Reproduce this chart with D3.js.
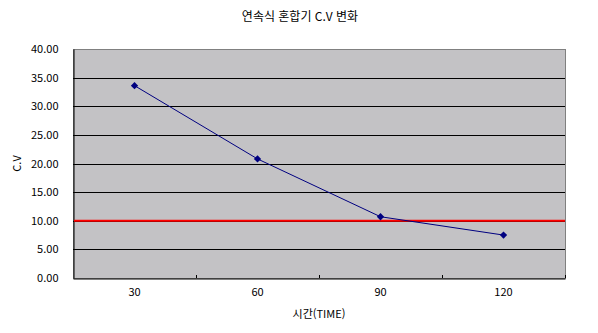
<!DOCTYPE html>
<html lang="ko">
<head>
<meta charset="utf-8">
<script src="https://d3js.org/d3.v7.min.js"></script>
<style>
body { margin: 0; background: #fff; }
text { font-family: "Noto Sans CJK KR", "DejaVu Sans", sans-serif; font-size: 11px; fill: #000; }
</style>
</head>
<body>
<script>
// data
const times = ["30", "60", "90", "120"];
const cvValues = [33.6, 20.8, 10.7, 7.5];
const yTicks = [0, 5, 10, 15, 20, 25, 30, 35, 40];
const limitValue = 10;

const width = 598, height = 333;
const plotLeft = 73, plotRight = 565, plotTop = 49, plotBottom = 278;

const svg = d3.select("body").append("svg")
    .attr("width", width)
    .attr("height", height);

const x = d3.scaleBand().domain(times).range([plotLeft, plotRight]);
const y = d3.scaleLinear().domain([0, 40]).range([plotBottom, plotTop]);

// plot background
svg.append("rect")
    .attr("x", plotLeft + 0.5).attr("y", plotTop + 0.5)
    .attr("width", plotRight - plotLeft).attr("height", plotBottom - plotTop)
    .attr("fill", "#c3c2c5")
    .attr("stroke", "#808080");

// gridlines
svg.append("g")
    .selectAll("line")
    .data(yTicks.filter(d => d > 0 && d < 40))
    .join("line")
    .attr("x1", plotLeft).attr("x2", plotRight)
    .attr("y1", d => Math.round(y(d)) + 0.5)
    .attr("y2", d => Math.round(y(d)) + 0.5)
    .attr("stroke", "#000");

// y axis
const yAxis = d3.axisLeft(y).tickValues(yTicks).tickFormat(d3.format(".2f")).tickSize(0).tickPadding(15);
const gy = svg.append("g").attr("transform", `translate(${plotLeft + 0.5},0)`).call(yAxis);
gy.select(".domain").attr("stroke", "#000");
gy.selectAll("text").style("font-size", "11px");

// x axis
const xAxis = d3.axisBottom(x).tickSize(0).tickPadding(10);
const gx = svg.append("g").attr("transform", `translate(0,${plotBottom + 0.5})`).call(xAxis);
gx.select(".domain").attr("stroke", "#000");
gx.selectAll("text").style("font-size", "11px");

// category boundary ticks (pointing inward)
svg.append("g")
    .selectAll("line")
    .data(times.slice(1).concat(["end"]))
    .join("line")
    .attr("x1", d => Math.round(d === "end" ? plotRight : x(d)) + 0.5)
    .attr("x2", d => Math.round(d === "end" ? plotRight : x(d)) + 0.5)
    .attr("y1", plotBottom).attr("y2", plotBottom - 3)
    .attr("stroke", "#000");

// limit line
svg.append("line")
    .attr("x1", plotLeft + 1).attr("x2", plotRight)
    .attr("y1", y(limitValue)).attr("y2", y(limitValue))
    .attr("stroke", "#ff0000")
    .attr("stroke-width", 2);

// series line
const pts = times.map((t, i) => [x(t) + x.bandwidth() / 2, y(cvValues[i])]);
svg.append("path")
    .attr("d", d3.line()(pts))
    .attr("fill", "none")
    .attr("stroke", "#000080")
    .attr("stroke-width", 1);

svg.append("g")
    .selectAll("path")
    .data(pts)
    .join("path")
    .attr("transform", d => `translate(${d[0]},${d[1]})`)
    .attr("d", d3.symbol(d3.symbolDiamond2, 34)())
    .attr("fill", "#000080");

// titles
svg.append("text")
    .attr("x", 300).attr("y", 21)
    .attr("text-anchor", "middle")
    .style("font-size", "12px")
    .text("연속식 혼합기 C.V 변화");

svg.append("text")
    .attr("x", (plotLeft + plotRight) / 2).attr("y", 318)
    .attr("text-anchor", "middle")
    .text("시간(TIME)");

svg.append("text")
    .attr("transform", `translate(21,${(plotTop + plotBottom) / 2}) rotate(-90)`)
    .attr("text-anchor", "middle")
    .text("C.V");
</script>
</body>
</html>
